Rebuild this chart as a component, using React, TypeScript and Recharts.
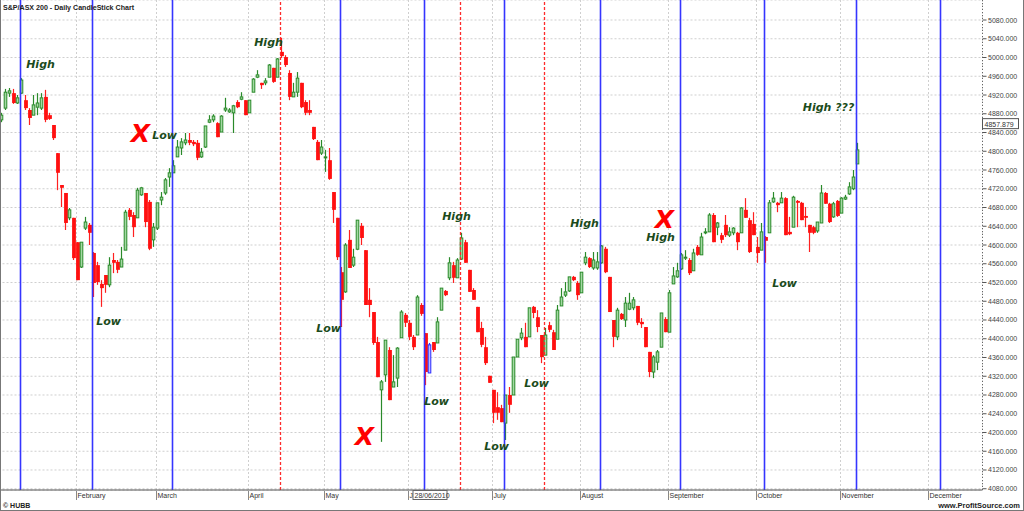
import React from 'react';
import { ComposedChart, Bar, XAxis, YAxis, CartesianGrid, ReferenceLine, ReferenceDot } from 'recharts';

// daily OHLC, S&P/ASX 200, from the first trading day of January 2010
const opens = [
  4867, 4892, 4924, 4924, 4903, 4924, 4909, 4888, 4877, 4894,
  4892, 4916, 4877, 4856, 4796, 4728, 4711, 4658, 4658, 4606,
  4553, 4636, 4643, 4583, 4557, 4517, 4536, 4515, 4568, 4564,
  4553, 4589, 4675, 4664, 4658, 4707, 4711, 4692, 4611, 4636,
  4696, 4711, 4745, 4754, 4788, 4807, 4818, 4824, 4820, 4818,
  4788, 4809, 4862, 4867, 4860, 4841, 4888, 4884, 4882, 4905,
  4911, 4909, 4882, 4926, 4958, 4946, 4946, 4958, 4978, 4958,
  5012, 5001, 4967, 4916, 4926, 4946, 4905, 4888, 4852, 4820,
  4796, 4786, 4781, 4713, 4658, 4542, 4500, 4611, 4557, 4591,
  4641, 4589, 4483, 4457, 4393, 4291, 4323, 4376, 4297, 4316,
  4402, 4451, 4434, 4404, 4408, 4472, 4412, 4327, 4393, 4391,
  4461, 4502, 4530, 4557, 4530, 4570, 4606, 4547, 4504, 4468,
  4423, 4382, 4321, 4291, 4254, 4252, 4220, 4280, 4280, 4361,
  4402, 4404, 4404, 4468, 4446, 4408, 4365, 4429, 4414, 4399,
  4470, 4493, 4502, 4532, 4519, 4498, 4562, 4572, 4551, 4551,
  4562, 4592, 4532, 4440, 4404, 4453, 4440, 4463, 4466, 4470,
  4436, 4425, 4372, 4329, 4350, 4382, 4442, 4414, 4517, 4532,
  4549, 4572, 4568, 4545, 4596, 4579, 4626, 4628, 4664, 4638,
  4621, 4643, 4621, 4626, 4626, 4626, 4675, 4653, 4645, 4596,
  4589, 4617, 4626, 4692, 4690, 4690, 4700, 4628, 4638, 4694,
  4690, 4662, 4643, 4638, 4630, 4647, 4711, 4688, 4660, 4694,
  4668, 4698, 4709, 4720, 4773,
];
const highs = [
  4882, 4933, 4935, 4933, 4920, 4956, 4920, 4892, 4920, 4924,
  4924, 4931, 4882, 4856, 4796, 4728, 4711, 4679, 4658, 4606,
  4606, 4660, 4647, 4585, 4564, 4525, 4536, 4574, 4583, 4568,
  4596, 4675, 4679, 4670, 4722, 4724, 4711, 4696, 4647, 4690,
  4713, 4743, 4764, 4781, 4824, 4828, 4839, 4839, 4824, 4824,
  4807, 4854, 4877, 4879, 4862, 4877, 4914, 4892, 4899, 4909,
  4926, 4909, 4909, 4956, 4973, 4946, 4956, 4986, 4978, 4999,
  5042, 5005, 4973, 4946, 4969, 4946, 4909, 4909, 4852, 4824,
  4824, 4803, 4807, 4713, 4658, 4553, 4604, 4632, 4592, 4653,
  4647, 4589, 4508, 4457, 4404, 4312, 4397, 4382, 4365, 4382,
  4461, 4455, 4440, 4408, 4493, 4476, 4412, 4391, 4393, 4446,
  4508, 4504, 4574, 4564, 4572, 4626, 4611, 4547, 4508, 4468,
  4436, 4404, 4321, 4291, 4286, 4259, 4280, 4297, 4361, 4399,
  4423, 4434, 4466, 4470, 4461, 4408, 4423, 4436, 4419, 4472,
  4508, 4521, 4532, 4534, 4523, 4542, 4585, 4574, 4585, 4585,
  4600, 4596, 4532, 4440, 4466, 4455, 4489, 4498, 4489, 4470,
  4444, 4425, 4372, 4365, 4376, 4455, 4446, 4504, 4553, 4562,
  4583, 4589, 4572, 4592, 4600, 4626, 4636, 4668, 4668, 4649,
  4626, 4664, 4638, 4638, 4628, 4681, 4700, 4658, 4670, 4617,
  4647, 4619, 4696, 4713, 4692, 4713, 4702, 4660, 4705, 4696,
  4692, 4681, 4643, 4641, 4649, 4728, 4713, 4690, 4692, 4696,
  4702, 4707, 4734, 4760, 4818,
];
const lows = [
  4862, 4888, 4916, 4901, 4901, 4922, 4888, 4856, 4877, 4877,
  4888, 4862, 4867, 4824, 4717, 4681, 4632, 4653, 4568, 4525,
  4551, 4632, 4600, 4489, 4515, 4468, 4498, 4510, 4540, 4540,
  4553, 4589, 4653, 4617, 4658, 4705, 4638, 4589, 4596, 4632,
  4685, 4707, 4724, 4754, 4788, 4792, 4813, 4813, 4811, 4781,
  4786, 4807, 4860, 4862, 4830, 4841, 4884, 4882, 4839, 4892,
  4909, 4877, 4882, 4926, 4956, 4933, 4941, 4958, 4946, 4958,
  4999, 4980, 4909, 4916, 4916, 4892, 4877, 4877, 4824, 4781,
  4792, 4756, 4739, 4647, 4568, 4425, 4498, 4551, 4553, 4589,
  4600, 4472, 4446, 4387, 4318, 4180, 4308, 4269, 4297, 4297,
  4402, 4425, 4397, 4376, 4408, 4449, 4301, 4327, 4372, 4391,
  4461, 4491, 4525, 4519, 4530, 4568, 4562, 4500, 4483, 4414,
  4382, 4344, 4306, 4220, 4227, 4222, 4184, 4242, 4280, 4361,
  4397, 4382, 4404, 4444, 4414, 4348, 4365, 4414, 4376, 4399,
  4470, 4489, 4500, 4523, 4483, 4498, 4557, 4551, 4547, 4547,
  4560, 4540, 4457, 4382, 4397, 4440, 4425, 4461, 4461, 4429,
  4423, 4382, 4318, 4316, 4333, 4382, 4414, 4414, 4517, 4530,
  4547, 4568, 4536, 4545, 4577, 4579, 4623, 4628, 4606, 4621,
  4604, 4617, 4617, 4621, 4589, 4626, 4658, 4583, 4621, 4562,
  4589, 4562, 4626, 4690, 4670, 4690, 4621, 4621, 4638, 4638,
  4653, 4638, 4585, 4623, 4626, 4647, 4688, 4647, 4658, 4660,
  4668, 4696, 4707, 4717, 4773,
];
const closes = [
  4877, 4926, 4929, 4903, 4914, 4952, 4892, 4871, 4899, 4903,
  4914, 4867, 4869, 4828, 4754, 4722, 4647, 4675, 4572, 4525,
  4606, 4649, 4626, 4519, 4521, 4508, 4515, 4557, 4562, 4547,
  4570, 4670, 4660, 4638, 4717, 4722, 4649, 4592, 4638, 4690,
  4702, 4739, 4754, 4769, 4809, 4820, 4824, 4818, 4815, 4786,
  4798, 4854, 4867, 4875, 4830, 4875, 4892, 4888, 4897, 4894,
  4916, 4877, 4909, 4954, 4963, 4941, 4950, 4984, 4948, 4997,
  5003, 4984, 4916, 4926, 4956, 4894, 4882, 4882, 4826, 4781,
  4809, 4788, 4741, 4675, 4574, 4483, 4600, 4551, 4574, 4653,
  4615, 4472, 4472, 4391, 4318, 4308, 4397, 4269, 4308, 4380,
  4457, 4434, 4404, 4382, 4489, 4453, 4329, 4387, 4376, 4436,
  4508, 4493, 4562, 4530, 4568, 4615, 4562, 4500, 4483, 4414,
  4387, 4348, 4306, 4242, 4242, 4222, 4280, 4259, 4361, 4399,
  4412, 4382, 4466, 4455, 4425, 4361, 4408, 4419, 4376, 4461,
  4489, 4500, 4532, 4525, 4493, 4542, 4574, 4553, 4568, 4564,
  4598, 4542, 4457, 4404, 4461, 4442, 4476, 4476, 4483, 4434,
  4431, 4382, 4329, 4361, 4372, 4455, 4414, 4498, 4534, 4545,
  4579, 4574, 4540, 4583, 4579, 4617, 4628, 4664, 4606, 4647,
  4611, 4621, 4628, 4636, 4606, 4679, 4658, 4585, 4621, 4583,
  4628, 4609, 4690, 4700, 4685, 4700, 4621, 4623, 4702, 4690,
  4653, 4658, 4626, 4626, 4649, 4711, 4688, 4649, 4688, 4662,
  4700, 4702, 4724, 4745, 4803,
];

// trading-day slots on the axis (data + empty days to mid December)
const slotCount = 246;
const monthStarts = [19, 39, 62, 81, 102, 123, 145, 167, 189, 210, 232];
const monthNames = ['February', 'March', 'April', 'May', 'June', 'July', 'August', 'September', 'October', 'November', 'December'];
const yTicks = [
  4080, 4120, 4160, 4200, 4240, 4280, 4320, 4360, 4400, 4440, 4480, 4520, 4560,
  4600, 4640, 4680, 4720, 4760, 4800, 4840, 4880, 4920, 4960, 5000, 5040, 5080,
];
const blueLines = [5, 23, 43, 85, 106, 126, 150, 170, 191, 214, 235];
const redLines = [70, 115, 136];
const selectedDay = 107;
const cursorDate = '28/06/2010';
const cursorPrice = 4857.879;

const notes = [
  { i: 10, v: 4978, text: 'High' },
  { i: 27, v: 4429, text: 'Low' },
  { i: 35, v: 4820, text: 'X', big: true },
  { i: 41, v: 4826, text: 'Low' },
  { i: 67, v: 5025, text: 'High' },
  { i: 82, v: 4414, text: 'Low' },
  { i: 91, v: 4173, text: 'X', big: true },
  { i: 114, v: 4653, text: 'High' },
  { i: 109, v: 4259, text: 'Low' },
  { i: 124, v: 4163, text: 'Low' },
  { i: 134, v: 4297, text: 'Low' },
  { i: 146, v: 4638, text: 'High' },
  { i: 166, v: 4636, text: 'X', big: true },
  { i: 165, v: 4609, text: 'High' },
  { i: 196, v: 4510, text: 'Low' },
  { i: 207, v: 4886, text: 'High ???' },
];

const data = Array.from({ length: slotCount }, (_, i) =>
  i < opens.length
    ? { i, open: opens[i], high: highs[i], low: lows[i], close: closes[i], range: [lows[i], highs[i]] }
    : { i, range: null }
);

const SMALL = '"Liberation Sans", Arial, sans-serif';

const Candle = (props: any) => {
  const { x, y, width, height, payload } = props;
  if (!payload || payload.open == null || isNaN(y)) return null;
  const { open, close, high, low, i } = payload;
  const cx = Math.floor(x + width / 2) + 0.5;
  const span = high - low;
  const py = (v: number) => (span > 0 ? y + ((high - v) / span) * height : y);
  const up = close >= open;
  const sel = i === selectedDay;
  const top = py(Math.max(open, close));
  const bh = Math.max(py(Math.min(open, close)) - top, 1);
  if (up || sel) {
    const edge = sel ? '#2b2bff' : '#2a8a2a';
    return (
      <g>
        <line x1={cx} x2={cx} y1={y} y2={top} stroke={edge} strokeWidth={1.2} />
        <line x1={cx} x2={cx} y1={top + bh} y2={y + height} stroke={edge} strokeWidth={1.2} />
        <rect x={cx - 1.3} y={top} width={2.6} height={bh} fill={sel ? '#b9b9ff' : '#a3d9a3'} stroke={edge} />
      </g>
    );
  }
  return (
    <g>
      <line x1={cx} x2={cx} y1={y} y2={y + height} stroke="#ff2020" strokeWidth={1.2} />
      <rect x={cx - 1.4} y={top} width={3.8} height={bh} fill="#ff1010" />
    </g>
  );
};

const MonthTick = (props: any) => {
  const { x, y, payload } = props;
  const name = monthNames[monthStarts.indexOf(payload.value)];
  return (
    <g>
      <line x1={x} x2={x} y1={y + 1} y2={y + 10} stroke="#888" />
      <text x={x + 1} y={y + 8} fontSize={7} fill="#333" fontFamily={SMALL}>{name}</text>
      {name === 'June' && (
        <g>
          <rect x={x + 4.5} y={y + 0.5} width={34} height={9} fill="#fff" stroke="#666" />
          <text x={x + 6} y={y + 8} fontSize={7} fill="#333" fontFamily={SMALL}>{cursorDate}</text>
        </g>
      )}
    </g>
  );
};

const PriceTick = (props: any) => {
  const { x, y, payload } = props;
  return (
    <g>
      <line x1={x} x2={x + 4} y1={y} y2={y} stroke="#555" />
      <text x={x + 5.5} y={y + 2.5} fontSize={7} fill="#444" fontFamily={SMALL}>{payload.value.toFixed(3)}</text>
    </g>
  );
};

const Note = ({ cx, cy, text, big }: any) => (
  <text
    x={cx}
    y={cy}
    textAnchor="middle"
    fontFamily='"DejaVu Sans", Verdana, sans-serif'
    fontWeight="bold"
    fontStyle="italic"
    fontSize={big ? 25 : 11}
    fill={big ? '#ff0000' : '#1b4b1b'}
  >
    {text}
  </text>
);

export default function App() {
  return (
    <div style={{ position: 'relative', width: 1024, height: 511, background: '#fff', overflow: 'hidden' }}>
      <style>{'body{margin:0}'}</style>
      <ComposedChart
        width={1024}
        height={511}
        data={data}
        margin={{ top: 0, right: 0, bottom: 0, left: -1.5 }}
        style={{ fontFamily: SMALL }}
      >
        <CartesianGrid stroke="#cfcfcf" strokeDasharray="2 2" />
        <XAxis
          dataKey="i"
          type="category"
          ticks={monthStarts}
          interval={0}
          tick={MonthTick}
          tickLine={false}
          tickSize={0}
          tickMargin={0}
          axisLine={{ stroke: '#555' }}
          height={21}
        />
        <YAxis
          orientation="right"
          type="number"
          domain={[4077.3, 5122.7]}
          allowDataOverflow
          ticks={yTicks}
          interval={0}
          width={41.5}
          tick={PriceTick}
          tickLine={false}
          tickSize={0}
          tickMargin={0}
          axisLine={{ stroke: '#666', strokeDasharray: '1 2' }}
        />
        {blueLines.map((d) => (
          <ReferenceLine key={`b${d}`} x={d} stroke="#3535ff" strokeWidth={1.6} />
        ))}
        {redLines.map((d) => (
          <ReferenceLine key={`r${d}`} x={d} stroke="#ff2a2a" strokeDasharray="3 2" strokeWidth={1.3} />
        ))}
        <Bar dataKey="range" barSize={3} shape={Candle} isAnimationActive={false} />
        {notes.map((n, k) => (
          <ReferenceDot
            key={`n${k}`}
            x={n.i}
            y={n.v}
            r={0}
            shape={(p: any) => <Note cx={p.cx} cy={p.cy} text={n.text} big={n.big} />}
          />
        ))}
        <ReferenceDot
          x={slotCount - 1}
          y={cursorPrice}
          r={0}
          shape={(p: any) => (
            <g>
              <rect x={p.cx + 2} y={p.cy - 5.5} width={36} height={10} fill="#fff" stroke="#555" />
              <text x={p.cx + 4} y={p.cy + 2.5} fontSize={7} fill="#333" fontFamily={SMALL}>{cursorPrice.toFixed(3)}</text>
            </g>
          )}
        />
      </ComposedChart>
      <svg width={1024} height={511} style={{ position: 'absolute', left: 0, top: 0, pointerEvents: 'none' }}>
        <text x={3} y={10} fontSize={7} fontWeight="bold" fill="#222" fontFamily={SMALL} textLength={131} lengthAdjust="spacingAndGlyphs">
          S&amp;P/ASX 200 - Daily CandleStick Chart
        </text>
        <text x={3} y={508} fontSize={7} fontWeight="bold" fill="#222" fontFamily={SMALL}>© HUBB</text>
        <text x={1020} y={508} fontSize={7.5} fontWeight="bold" fill="#222" fontFamily={SMALL} textAnchor="end">
          www.ProfitSource.com
        </text>
        <line x1={0.5} x2={0.5} y1={0} y2={511} stroke="#777" />
        <line x1={1023.5} x2={1023.5} y1={0} y2={511} stroke="#777" />
        <line x1={0} x2={1024} y1={510.5} y2={510.5} stroke="#777" />
      </svg>
    </div>
  );
}
